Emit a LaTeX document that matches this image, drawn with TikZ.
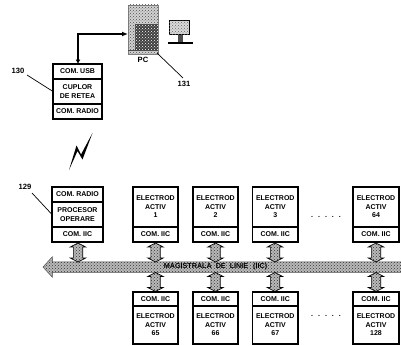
\documentclass[tikz,border=0pt]{standalone}
\usepackage{fontspec}
\setmainfont{Liberation Sans}
\usetikzlibrary{shapes.arrows,patterns,arrows.meta}
\tikzset{
 x=1pt,y=-1pt,
 every node/.style={font=\fontsize{7}{8.5}\selectfont\bfseries,align=center,inner sep=0pt,outer sep=0pt},
 part/.style={draw=black,line width=1.5pt,fill=white,minimum width=#1,anchor=north west},
 link/.style={shape=double arrow,inner xsep=0pt,inner ysep=4.3pt,double arrow head extend=3pt,double arrow tip angle=125,draw=black,line width=.7pt,fill=gray!55,postaction={pattern=crosshatch dots,pattern color=black!80},rotate=90},
 leader/.style={draw=black,line width=.7pt},
 lab/.style={font=\fontsize{7.6}{8}\selectfont\bfseries},
}
\begin{document}
\begin{tikzpicture}
\useasboundingbox (0,0) rectangle (401,345);
% --- coupler 130
\node[part=49pt,minimum height=15pt] (uu) at (53,64) {COM. USB};
\node[part=49pt,minimum height=25pt] (uc) at (53,79) {CUPLOR\\DE RETEA};
\node[part=49pt,minimum height=15pt] (ur) at (53,104) {COM. RADIO};
% --- PC
\node[draw=gray,line width=.4pt,fill=gray!35,minimum width=30pt,minimum height=49pt,anchor=north west,postaction={pattern=crosshatch dots,pattern color=black!70}] (pc) at (128,5) {};
\fill[black!75] (135,24) rectangle (158,50);
\fill[pattern=crosshatch dots,pattern color=white] (135,24) rectangle (158,50);
\draw[black!70,line width=.6pt] (128,50) -- (158,50);
\node[lab] (pcl) at (143,60) {PC};
\node[draw=black,line width=1pt,fill=gray!30,minimum width=20pt,minimum height=14pt,anchor=north west,postaction={pattern=crosshatch dots,pattern color=black!60}] (mon) at (169,21) {};
\node[fill=black!70,minimum width=5pt,minimum height=7pt,anchor=north] (stand) at (180,35) {};
\node[fill=black,minimum width=25pt,minimum height=1.4pt,anchor=north] (foot) at (180,42.5) {};
% links top
\coordinate (bend) at (78,34);
\draw[line width=1.3pt,{Latex[length=4.5pt,width=5pt]}-{Latex[length=6pt,width=5pt]}] (uu.north -| bend) -- (bend) -- (pc.west |- bend);
% labels
\node[lab] (l130) at (18,71) {130};
\coordinate (t130) at (27,75);
\draw[leader] (t130) -- (uc.west);
\node[lab] (l131) at (184,84) {131};
\coordinate (t131) at (183,78);
\coordinate (s131) at (157,53);
\draw[leader] (s131) -- (t131);
% lightning
\fill[black] (69,170) -- (76.5,145.5) -- (81,154.5) -- (92.5,133) -- (82.5,159.5) -- (77.5,151) -- cycle;
% --- bus
\node[shape=single arrow,shape border rotate=180,inner xsep=0pt,inner ysep=5pt,single arrow head extend=5pt,single arrow tip angle=95,draw=black!70,line width=.5pt,fill=gray!55,postaction={pattern=crosshatch dots,pattern color=black!80},minimum height=362pt,anchor=tip] (bus) at (43,267) {};
\node[font=\fontsize{7.2}{8}\selectfont\bfseries] (bust) at (215.5,267) {MAGISTRALA\hspace{4pt}DE\hspace{4pt}LINIE\hspace{5pt}(IIC)};
% --- processor 129
\node[part=51pt,minimum height=15pt] (pr) at (52,187) {COM. RADIO};
\node[part=51pt,minimum height=25pt] (pp) at (52,202) {PROCESOR\\OPERARE};
\node[part=51pt,minimum height=15pt] (pi) at (52,227) {COM. IIC};
\node[lab] (l129) at (25,187) {129};
\coordinate (t129) at (32,193);
\draw[leader] (t129) -- (pp.west);
\node[link,minimum height=19pt] (lk0) at (78,252.5) {};
% --- electrodes
\foreach \n/\tn/\bn/\x/\w/\c in {a/1/65/133/45/155.5,b/2/66/193/45/215.5,c/3/67/252.5/45.5/275,d/64/128/353/46/376}{
 \node[part=\w pt,minimum height=40pt] (\n e) at (\x,187) {ELECTROD\\ACTIV\\\tn};
 \node[part=\w pt,minimum height=15pt] (\n i) at (\x,227) {COM. IIC};
 \node[link,minimum height=19pt] (\n u) at (\c,252.5) {};
 \node[link,minimum height=19pt] (\n l) at (\c,282) {};
 \node[part=\w pt,minimum height=14pt] (\n j) at (\x,292) {COM. IIC};
 \node[part=\w pt,minimum height=38pt] (\n f) at (\x,306) {ELECTROD\\ACTIV\\\bn};
}
\node (dots1) at (326,217) {.\hspace{5pt}.\hspace{5pt}.\hspace{5pt}.\hspace{5pt}.};
\node (dots2) at (326,316) {.\hspace{5pt}.\hspace{5pt}.\hspace{5pt}.\hspace{5pt}.};
\end{tikzpicture}
\end{document}
